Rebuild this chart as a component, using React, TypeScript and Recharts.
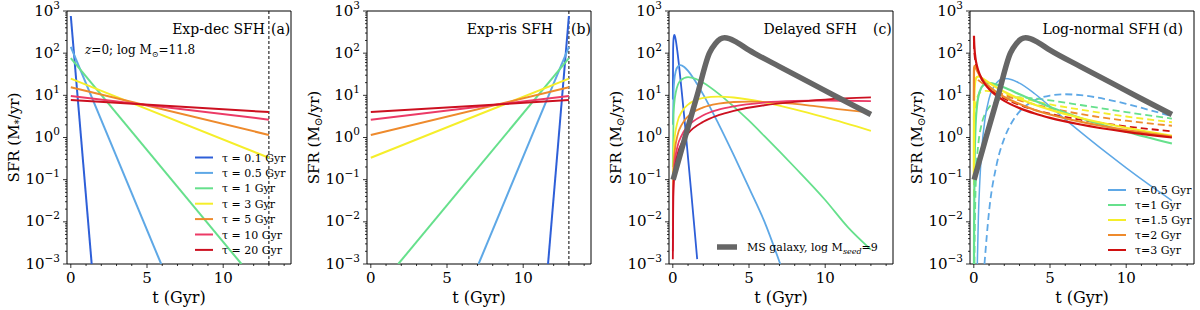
import React from "react";
import { LineChart, Line, XAxis, YAxis, ReferenceLine, ReferenceArea } from "recharts";

type Pt = [number, number]; // [t in Gyr, SFR in Msun/yr]

const SERIF = "'DejaVu Serif', 'Liberation Serif', serif";

// ---- axes ----
const X_DOMAIN: [number, number] = [-0.25, 14.45];
const X_TICKS = [0, 1, 2, 3, 4, 5, 6, 7, 8, 9, 10, 11, 12, 13, 14];
const X_MAJOR = [0, 5, 10];
const Y_MAJOR = [1e-3, 1e-2, 1e-1, 1, 10, 100, 1000];
const Y_EXP = ["−3", "−2", "−1", "0", "1", "2", "3"];
const Y_MINOR = Y_MAJOR.slice(0, -1).flatMap((d) => [2, 3, 4, 5, 6, 7, 8, 9].map((m) => m * d));
const Y_TICKS = [...Y_MAJOR, ...Y_MINOR];

// ---- (a) exponentially declining ----
const decTau01: Pt[] = [[0, 760], [1.37, 0.001]];
const decTau05: Pt[] = [[0, 141], [5.93, 0.001]];
const decTau1: Pt[] = [[0, 76], [11.2, 0.001]];
const decTau3: Pt[] = [[0, 25], [13, 0.33]];
const decTau5: Pt[] = [[0, 15.5], [13, 1.15]];
const decTau10: Pt[] = [[0, 9.7], [13, 2.65]];
const decTau20: Pt[] = [[0, 7.7], [13, 4.0]];

// ---- (b) exponentially rising ----
const risTau01: Pt[] = [[11.63, 0.001], [13, 760]];
const risTau05: Pt[] = [[7.07, 0.001], [13, 141]];
const risTau1: Pt[] = [[1.8, 0.001], [13, 76]];
const risTau3: Pt[] = [[0, 0.33], [13, 25]];
const risTau5: Pt[] = [[0, 1.15], [13, 15.5]];
const risTau10: Pt[] = [[0, 2.65], [13, 9.7]];
const risTau20: Pt[] = [[0, 4.0], [13, 7.7]];

// ---- (c) delayed ----
const delTau01: Pt[] = [[0.004, 8], [0.02, 120], [0.05, 223], [0.1, 270], [0.15, 246], [0.2, 199], [0.3, 110], [0.4, 54], [0.6, 11], [0.8, 2], [1.0, 0.33], [1.2, 0.054], [1.4, 0.0085], [1.6, 0.0013]];
const delTau05: Pt[] = [[0.004, 2], [0.05, 12.8], [0.1, 23], [0.2, 38], [0.35, 49], [0.5, 52], [0.75, 47], [1, 38], [1.5, 21], [2, 10.4], [3, 2.1], [4, 0.38], [5, 0.064], [6, 0.0104], [7.05, 0.001]];
const delTau1: Pt[] = [[0.003, 0.2], [0.05, 3.5], [0.1, 6.6], [0.2, 12], [0.5, 22.3], [1, 27], [1.5, 24.6], [2, 19.9], [3, 11], [4, 5.4], [5, 2.5], [6, 1.09], [8, 0.197], [10, 0.033], [11.5, 0.0074], [13, 0.0022]];
const delTau3: Pt[] = [[0.001, 0.008], [0.01, 0.084], [0.1, 0.82], [0.3, 2.29], [0.6, 4.14], [1, 6.04], [1.5, 7.67], [2, 8.66], [3, 9.3], [4, 8.88], [6, 6.84], [8, 4.67], [10, 2.99], [13, 1.44]];
const delTau5: Pt[] = [[0.001, 0.004], [0.03, 0.115], [0.1, 0.378], [0.3, 1.09], [0.6, 2.05], [1, 3.16], [2, 5.17], [3, 6.36], [4, 6.94], [5, 7.1], [7, 6.69], [9, 5.72], [11, 4.66], [13, 3.9]];
const delTau10: Pt[] = [[0.001, 0.002], [0.03, 0.061], [0.1, 0.203], [0.3, 0.597], [0.6, 1.16], [1, 1.85], [2, 3.36], [3, 4.56], [4, 5.5], [6, 6.75], [8, 7.37], [10, 7.54], [13, 7.28]];
const delTau20: Pt[] = [[0.001, 0.0013], [0.03, 0.039], [0.1, 0.13], [0.3, 0.387], [0.6, 0.763], [1, 1.25], [2, 2.37], [3, 3.39], [4, 4.29], [6, 5.82], [8, 7.02], [10, 7.95], [13, 8.9]];

// main-sequence galaxy track (c, d)
const msGalaxy: Pt[] = [[0.02, 0.1], [0.8, 1], [1.6, 10], [2.4, 100], [2.8, 170], [3.1, 215], [3.4, 232], [3.7, 222], [4.2, 180], [5, 118], [7, 48], [9, 20], [11, 8.3], [13, 3.5]];

// ---- (d) log-normal, solid ----
const lnTau05: Pt[] = [[0.23, 0.001], [0.3, 0.013], [0.4, 0.1], [0.5, 0.42], [0.75, 3.0], [1, 8.3], [1.5, 20], [2, 25], [2.5, 23.5], [3, 19.4], [4, 10.9], [5, 5.5], [6, 2.7], [7.5, 0.97], [9, 0.36], [10, 0.19], [11.5, 0.076], [13, 0.032]];
const lnTau1: Pt[] = [[0.012, 0.001], [0.02, 0.0093], [0.05, 0.21], [0.1, 1.37], [0.2, 5.3], [0.3, 9.4], [0.5, 15.3], [0.75, 18.6], [1, 19.4], [1.5, 17.9], [2, 15.3], [3, 10.6], [4, 7.4], [5, 5.3], [7, 2.9], [10, 1.37], [13, 0.72]];
const lnTau15: Pt[] = [[0.002, 0.12], [0.005, 0.73], [0.01, 2.3], [0.02, 5.8], [0.05, 14.2], [0.1, 22], [0.2, 27.3], [0.3, 28], [0.5, 26.2], [0.75, 22.9], [1, 19.9], [1.5, 15.3], [2, 12.1], [3, 8.25], [4, 6.0], [5, 4.57], [7, 2.9], [10, 1.7], [13, 1.1]];
const lnTau2: Pt[] = [[0.001, 7.4], [0.01, 36], [0.02, 45.5], [0.05, 50], [0.1, 47.3], [0.2, 39.5], [0.3, 33.6], [0.5, 25.9], [0.75, 20], [1, 16.3], [1.5, 11.8], [2, 9.1], [3, 6.2], [4, 4.5], [5, 3.5], [7, 2.36], [10, 1.5], [13, 1.05]];
const lnTau3: Pt[] = [[0.01, 260], [0.02, 195], [0.05, 122], [0.1, 81], [0.2, 51], [0.3, 37.9], [0.5, 25.4], [0.75, 18.1], [1, 14.1], [1.5, 9.7], [2, 7.4], [3, 4.97], [4, 3.7], [5, 2.92], [7, 2.03], [10, 1.36], [13, 1.0]];

// ---- (d) log-normal, dashed (later peak) ----
const lnDash05: Pt[] = [[0.7, 0.001], [1, 0.0176], [1.5, 0.23], [2, 0.95], [2.5, 2.3], [3, 4.1], [4, 7.65], [5, 9.9], [6, 10.6], [7, 10.1], [8, 9.0], [9, 7.6], [10, 6.3], [11.5, 4.5], [13, 3.2]];
const lnDash1: Pt[] = [[0.04, 0.001], [0.05, 0.0025], [0.1, 0.033], [0.2, 0.27], [0.3, 0.72], [0.5, 2.0], [0.75, 3.7], [1, 5.2], [1.5, 7.3], [2, 8.4], [3, 8.9], [4, 8.4], [5, 7.6], [7, 5.9], [10, 4.0], [13, 2.8]];
const lnDash15: Pt[] = [[0.005, 0.04], [0.01, 0.18], [0.02, 0.61], [0.05, 2.3], [0.1, 4.8], [0.2, 8.3], [0.3, 10.3], [0.5, 12.2], [0.8, 12.8], [1.2, 12.4], [2, 10.7], [3, 8.8], [5, 6.1], [7, 4.6], [10, 3.15], [13, 2.3]];
const lnDash2: Pt[] = [[0.002, 2.6], [0.005, 6.1], [0.01, 10.2], [0.02, 15.3], [0.05, 21.3], [0.14, 24.7], [0.3, 22.8], [0.5, 20], [1, 15.2], [2, 10.2], [3, 7.6], [5, 5.0], [7, 3.6], [10, 2.5], [13, 1.9]];
const lnDash3: Pt[] = [[0.005, 185], [0.01, 159], [0.02, 130], [0.05, 90], [0.1, 65], [0.2, 44], [0.3, 34.4], [0.5, 24.4], [1, 14.7], [2, 8.4], [3, 5.9], [5, 3.66], [7, 2.64], [10, 1.84], [13, 1.4]];

const EXP_LEGEND = ["τ = 0.1 Gyr", "τ = 0.5 Gyr", "τ = 1 Gyr", "τ = 3 Gyr", "τ = 5 Gyr", "τ = 10 Gyr", "τ = 20 Gyr"];
const LN_LEGEND = ["τ=0.5 Gyr", "τ=1 Gyr", "τ=1.5 Gyr", "τ=2 Gyr", "τ=3 Gyr"];

const C = {
  b01: "#2e5fd8",
  b05: "#5ea8e6",
  g1: "#66e08c",
  y3: "#f5ee2a",
  o5: "#ee8a2c",
  p10: "#ec3a66",
  r20: "#cc1020",
  gray: "#666666",
};
const EXP_COLORS = [C.b01, C.b05, C.g1, C.y3, C.o5, C.p10, C.r20];
const LN_COLORS = [C.b05, C.g1, C.y3, C.o5, "#d01010"];

type Series = { id: string; data: Pt[]; color: string; width: number; dash?: string; curve: "linear" | "monotone" };

const rows = (pts: Pt[]) => pts.map(([t, sfr]) => ({ t, sfr }));

const expSeries = (list: Pt[][], prefix: string): Series[] =>
  list.map((d, i) => ({ id: prefix + i, data: d, color: EXP_COLORS[i], width: 2, curve: "linear" }));

const panelA = expSeries([decTau01, decTau05, decTau1, decTau3, decTau5, decTau10, decTau20], "a");
const panelB = expSeries([risTau01, risTau05, risTau1, risTau3, risTau5, risTau10, risTau20], "b");
const panelC: Series[] = [
  ...[delTau01, delTau05, delTau1, delTau3, delTau5, delTau10, delTau20].map((d, i) => ({
    id: "c" + i, data: d, color: EXP_COLORS[i], width: 1.8, curve: "monotone" as const,
  })),
  { id: "cms", data: msGalaxy, color: C.gray, width: 5.5, curve: "monotone" },
];
const panelD: Series[] = [
  ...[lnDash05, lnDash1, lnDash15, lnDash2, lnDash3].map((d, i) => ({
    id: "dd" + i, data: d, color: LN_COLORS[i], width: 1.8, dash: "7 4", curve: "monotone" as const,
  })),
  ...[lnTau05, lnTau1, lnTau15, lnTau2, lnTau3].map((d, i) => ({
    id: "ds" + i, data: d, color: LN_COLORS[i], width: i === 0 ? 1.5 : 2.2, curve: "monotone" as const,
  })),
  { id: "dms", data: msGalaxy, color: C.gray, width: 5.5, curve: "monotone" },
];

function XTick(props: any) {
  const { x, y, payload } = props;
  const major = X_MAJOR.includes(payload.value);
  return (
    <g>
      <line x1={x} x2={x} y1={y} y2={y + (major ? 4 : 2)} stroke="#000" strokeWidth={0.8} />
      {major && (
        <text x={x} y={y + 19} textAnchor="middle" fontFamily={SERIF} fontSize={15} fill="#000">
          {payload.value}
        </text>
      )}
    </g>
  );
}

function YTick(props: any) {
  const { x, y, payload } = props;
  const i = Y_MAJOR.indexOf(payload.value);
  return (
    <g>
      <line x1={x - (i >= 0 ? 4 : 2)} x2={x} y1={y} y2={y} stroke="#000" strokeWidth={0.8} />
      {i >= 0 && (
        <text x={x - 7} y={y + 4.5} textAnchor="end" fontFamily={SERIF} fontSize={15} fill="#000">
          10<tspan dy={-7} fontSize={10.5}>{Y_EXP[i]}</tspan>
        </text>
      )}
    </g>
  );
}

function AxisTitles({ star }: { star?: boolean }) {
  return (
    <>
      <text transform="translate(18.5,137.5) rotate(-90)" textAnchor="middle" fontFamily={SERIF} fontSize={15} fill="#000">
        SFR (M<tspan dy={3} fontSize={10.5}>{star ? "*" : "⊙"}</tspan>
        <tspan dy={-3}>/yr)</tspan>
      </text>
      <text x={179} y={303} textAnchor="middle" fontFamily={SERIF} fontSize={16} fill="#000">
        t (Gyr)
      </text>
    </>
  );
}

function Title({ main, tag, end, tagX }: { main: string; tag: string; end: number; tagX: number }) {
  return (
    <>
      <text x={end} y={34} textAnchor="end" fontFamily={SERIF} fontSize={14} fill="#000">{main}</text>
      <text x={tagX} y={34} fontFamily={SERIF} fontSize={14} fill="#000">{tag}</text>
    </>
  );
}

function Panel({ left, series, vline, children }: { left: number; series: Series[]; vline?: boolean; children?: React.ReactNode }) {
  return (
    <div style={{ position: "absolute", left, top: 0, width: 300, height: 310 }}>
      <LineChart width={300} height={310} margin={{ top: 11, right: 9, bottom: 0, left: 0 }}>
        <XAxis
          type="number"
          dataKey="t"
          domain={X_DOMAIN}
          ticks={X_TICKS}
          interval={0}
          allowDataOverflow
          axisLine={false}
          tickLine={false}
          tickSize={0}
          tickMargin={0}
          height={46}
          tick={(p: any) => <XTick {...p} />}
        />
        <YAxis
          type="number"
          scale="log"
          domain={[1e-3, 1e3]}
          ticks={Y_TICKS}
          interval={0}
          allowDataOverflow
          axisLine={false}
          tickLine={false}
          tickSize={0}
          tickMargin={0}
          width={67}
          tick={(p: any) => <YTick {...p} />}
        />
        {vline && <ReferenceLine x={13} stroke="#000" strokeWidth={1} strokeDasharray="3 2" />}
        {series.map((s) => (
          <Line
            key={s.id}
            data={rows(s.data)}
            dataKey="sfr"
            type={s.curve}
            stroke={s.color}
            strokeWidth={s.width}
            strokeDasharray={s.dash}
            dot={false}
            activeDot={false}
            legendType="none"
            isAnimationActive={false}
          />
        ))}
        <ReferenceArea x1={X_DOMAIN[0]} x2={X_DOMAIN[1]} y1={1e-3} y2={1e3} fill="none" stroke="#000" strokeWidth={1} ifOverflow="visible" />
      </LineChart>
      <svg width={300} height={310} style={{ position: "absolute", left: 0, top: 0, pointerEvents: "none" }}>
        {children}
      </svg>
    </div>
  );
}

export default function App() {
  return (
    <div style={{ position: "absolute", left: 0, top: 0, width: 1200, height: 310, background: "#fff" }}>
      <Panel left={0} series={panelA} vline>
        <AxisTitles star />
        <Title main="Exp-dec SFH" tag="(a)" end={265} tagX={271} />
        <text x={85} y={54} fontFamily={SERIF} fontSize={12} fill="#000">
          <tspan fontStyle="italic">z</tspan>=0; log M<tspan dy={3} fontSize={8}>⊙</tspan>
          <tspan dy={-3}>=11.8</tspan>
        </text>
        {EXP_LEGEND.map((lab, i) => (
          <g key={lab}>
            <line x1={195} x2={213} y1={157.5 + i * 15.4} y2={157.5 + i * 15.4} stroke={EXP_COLORS[i]} strokeWidth={2} />
            <text x={222} y={161.5 + i * 15.4} fontFamily={SERIF} fontSize={11} fill="#000">{lab}</text>
          </g>
        ))}
      </Panel>
      <Panel left={300} series={panelB} vline>
        <AxisTitles />
        <Title main="Exp-ris SFH" tag="(b)" end={253} tagX={271} />
      </Panel>
      <Panel left={602} series={panelC}>
        <AxisTitles />
        <Title main="Delayed SFH" tag="(c)" end={255} tagX={271} />
        <line x1={115} x2={135} y1={247} y2={247} stroke={C.gray} strokeWidth={5.5} />
        <text x={145} y={251} fontFamily={SERIF} fontSize={11} fill="#000">
          MS galaxy, log M<tspan dy={3} fontSize={8} fontStyle="italic">seed</tspan>
          <tspan dy={-3}>=9</tspan>
        </text>
      </Panel>
      <Panel left={903} series={panelD}>
        <AxisTitles />
        <Title main="Log-normal SFH" tag="(d)" end={257} tagX={260} />
        {LN_LEGEND.map((lab, i) => (
          <g key={lab}>
            <line x1={205} x2={223} y1={190 + i * 15} y2={190 + i * 15} stroke={LN_COLORS[i]} strokeWidth={2} />
            <text x={232} y={194 + i * 15} fontFamily={SERIF} fontSize={11} fill="#000">{lab}</text>
          </g>
        ))}
      </Panel>
    </div>
  );
}
